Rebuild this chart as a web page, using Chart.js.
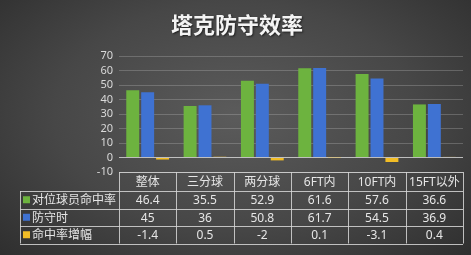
<!DOCTYPE html>
<html>
<head>
<meta charset="utf-8">
<script src="https://cdn.jsdelivr.net/npm/chart.js@4"></script>
<style>
  html, body { margin: 0; padding: 0; }
  body { width: 471px; height: 255px; overflow: hidden;
    background: radial-gradient(ellipse 70% 80% at 50% 45%, #5b5b5b 0%, #474747 55%, #2e2e2e 100%); }
  canvas { display: block; }
</style>
</head>
<body>
<canvas id="tuckerChart" width="471" height="255"></canvas>
<script>
// 塔克防守效率
const categories = ['整体', '三分球', '两分球', '6FT内', '10FT内', '15FT以外'];
const seriesNames = ['对位球员命中率', '防守时', '命中率增幅'];
const matchupPct = [46.4, 35.5, 52.9, 61.6, 57.6, 36.6];
const defendedPct = [45, 36, 50.8, 61.7, 54.5, 36.9];
const pctChange = [-1.4, 0.5, -2, 0.1, -3.1, 0.4];
const seriesColors = ['#6db33f', '#3f72d2', '#f2bd26'];

const FONT = '"Noto Sans", "Noto Sans CJK SC", sans-serif';

// title + data table drawn under the plot
const tablePlugin = {
  id: 'dataTable',
  afterDraw(chart) {
    const ctx = chart.ctx;
    const area = chart.chartArea;
    const xs = chart.scales.x;
    const colW = (area.right - area.left) / categories.length;
    const rows = [area.bottom, 191, 208.5, 226, 243.5];
    const legendLeft = 20;
    const values = [matchupPct, defendedPct, pctChange];

    ctx.save();
    // title
    ctx.font = 'bold 22px "Noto Sans CJK SC", sans-serif';
    ctx.fillStyle = '#f4f4f4';
    ctx.textAlign = 'center';
    ctx.textBaseline = 'middle';
    ctx.shadowColor = 'rgba(0,0,0,0.6)';
    ctx.shadowOffsetX = 1;
    ctx.shadowOffsetY = 1;
    ctx.shadowBlur = 2;
    ctx.fillText('塔克防守效率', 237, 25);
    ctx.restore();

    ctx.save();
    ctx.strokeStyle = 'rgba(215,215,215,0.85)';
    ctx.lineWidth = 1;
    ctx.beginPath();
    // horizontal lines
    ctx.moveTo(area.left, Math.round(rows[0]) + 0.5);
    ctx.lineTo(area.right, Math.round(rows[0]) + 0.5);
    for (let i = 1; i < rows.length; i++) {
      const y = Math.round(rows[i]) + 0.5;
      ctx.moveTo(legendLeft, y);
      ctx.lineTo(area.right, y);
    }
    // vertical lines
    for (let c = 0; c <= categories.length; c++) {
      const x = Math.round(area.left + c * colW) + 0.5;
      ctx.moveTo(x, rows[0]);
      ctx.lineTo(x, rows[rows.length - 1]);
    }
    ctx.moveTo(legendLeft + 0.5, rows[1]);
    ctx.lineTo(legendLeft + 0.5, rows[rows.length - 1]);
    ctx.stroke();

    ctx.fillStyle = '#e6e6e6';
    ctx.textBaseline = 'middle';
    ctx.textAlign = 'center';
    ctx.font = '12px ' + FONT;
    categories.forEach((cat, i) => {
      const x = xs.getPixelForValue(i);
      ctx.fillText(cat, x, (rows[0] + rows[1]) / 2 + 1);
      values.forEach((arr, r) => {
        ctx.fillText(String(arr[i]), x, (rows[r + 1] + rows[r + 2]) / 2 + 1);
      });
    });

    ctx.textAlign = 'left';
    seriesNames.forEach((name, r) => {
      const yMid = (rows[r + 1] + rows[r + 2]) / 2;
      ctx.fillStyle = seriesColors[r];
      ctx.fillRect(legendLeft + 3, yMid - 3.5, 7, 7);
      ctx.fillStyle = '#e6e6e6';
      ctx.font = '12px ' + FONT;
      ctx.fillText(name, legendLeft + 12, yMid + 1);
    });
    ctx.restore();
  }
};

new Chart(document.getElementById('tuckerChart'), {
  type: 'bar',
  data: {
    labels: categories,
    datasets: [
      { label: seriesNames[0], data: matchupPct, backgroundColor: seriesColors[0] },
      { label: seriesNames[1], data: defendedPct, backgroundColor: seriesColors[1] },
      { label: seriesNames[2], data: pctChange, backgroundColor: seriesColors[2] }
    ]
  },
  options: {
    responsive: false,
    animation: false,
    devicePixelRatio: 1,
    layout: { padding: { left: 0, top: 56, right: 8, bottom: 83 } },
    datasets: { bar: { categoryPercentage: 0.78, barPercentage: 0.87 } },
    plugins: {
      legend: { display: false },
      title: { display: false },
      tooltip: { enabled: false }
    },
    scales: {
      x: { display: false },
      y: {
        min: -10,
        max: 70,
        afterFit(scale) { scale.width = 119; },
        border: { display: false },
        grid: {
          drawTicks: false,
          color: c => c.tick && c.tick.value === 0 ? 'rgba(230,230,230,0.75)' : 'rgba(200,200,200,0.28)'
        },
        ticks: {
          stepSize: 10,
          autoSkip: false,
          padding: 6,
          color: '#d9d9d9',
          font: { family: FONT, size: 11 }
        }
      }
    }
  },
  plugins: [tablePlugin]
});
</script>
</body>
</html>
